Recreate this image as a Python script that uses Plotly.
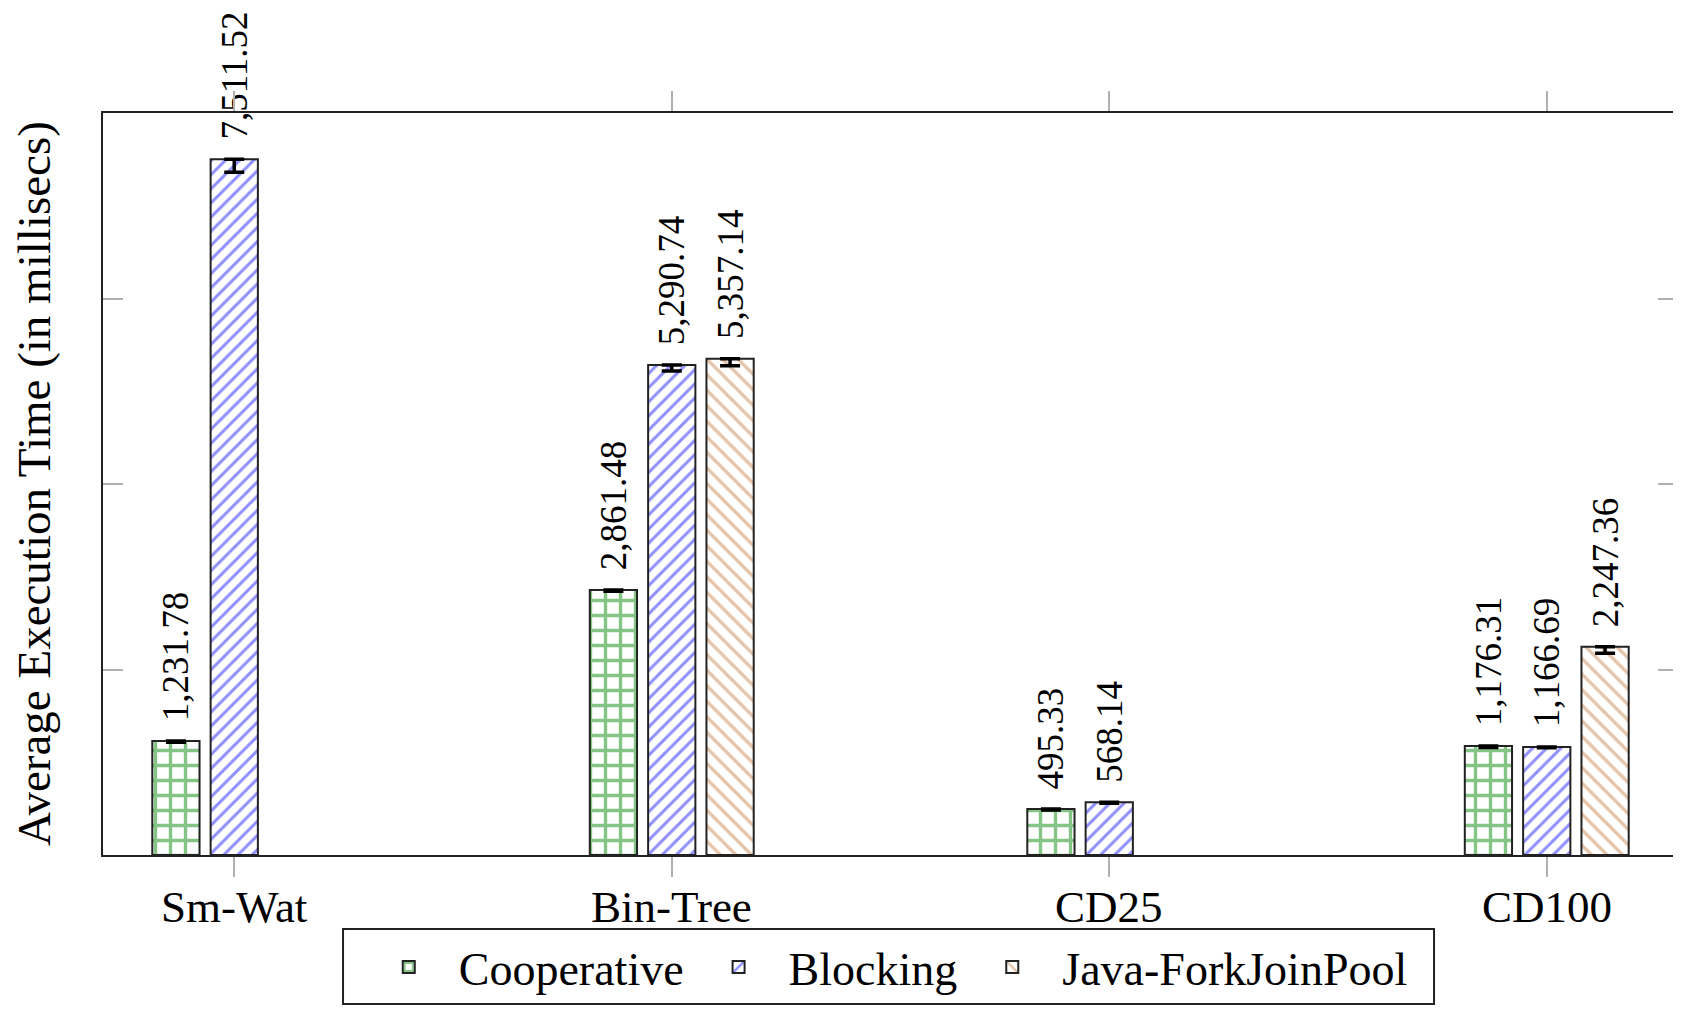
import plotly.graph_objects as go

categories = ["Sm-Wat", "Bin-Tree", "CD25", "CD100"]
cooperative = [1231.78, 2861.48, 495.33, 1176.31]
blocking = [7511.52, 5290.74, 568.14, 1166.69]
java_fjp = [None, 5357.14, None, 2247.36]
coop_err = [15, 15, 10, 15]
block_err = [140, 65, 10, 10]
java_err = [0, 75, 0, 70]
series_names = ["Cooperative", "Blocking", "Java-ForkJoinPool"]

FONT = "Liberation Serif"
NB = "\u00a0\u2009"

def labels(vals):
    return [None if v is None else NB + f"{v:,.2f}" for v in vals]

specs = [
    (series_names[0], cooperative, coop_err, "+", "#0a8a0a", 15, 0.4),
    (series_names[1], blocking, block_err, "/", "#1f1fff", 10, 0.3),
    (series_names[2], java_fjp, java_err, "\\", "#c98a55", 11, 0.3),
]

fig = go.Figure()
for name, vals, err, shape, col, size, sol in specs:
    fig.add_trace(go.Bar(
        name=name, x=categories, y=vals,
        text=labels(vals), textposition="outside", textangle=-90,
        constraintext="none", cliponaxis=False,
        textfont=dict(family=FONT, size=37, color="black"),
        outsidetextfont=dict(family=FONT, size=37, color="black"),
        marker=dict(color="white", line=dict(color="#222222", width=2),
                    pattern=dict(shape=shape, fgcolor=col, bgcolor="white",
                                 size=size, solidity=sol)),
        error_y=dict(type="data", symmetric=False, array=[0]*4, arrayminus=err,
                     color="black", thickness=3.5, width=10),
    ))

annotations = [dict(text="Average Execution Time (in millisecs)", textangle=-90,
                    xref="paper", yref="paper", x=-0.0438, y=0.5,
                    xanchor="center", yanchor="middle", showarrow=False,
                    font=dict(family=FONT, size=47, color="black"))]
for c in categories:
    annotations.append(dict(text=c, x=c, xref="x", y=0, yref="paper",
                            yanchor="middle", xanchor="center", yshift=-52,
                            showarrow=False,
                            font=dict(family=FONT, size=45, color="black")))

# legend frame
shapes = [dict(type="rect", xref="paper", yref="paper",
               x0=0.1524, x1=0.8451, y0=-0.2008, y1=-0.0997,
               line=dict(color="#222222", width=2), fillcolor="rgba(0,0,0,0)",
               layer="below")]

# page body has an 8px margin, so the figure is sized to fit the 1681x1010 window
fig.update_layout(
    width=1673, height=1002,
    margin=dict(l=95, r=3, t=105, b=155, autoexpand=False),
    paper_bgcolor="white", plot_bgcolor="white",
    barmode="group", bargap=0.6, bargroupgap=0.19,
    font=dict(family=FONT, color="black"),
    showlegend=True,
    legend=dict(orientation="h", x=0.497, xanchor="center", y=-0.151, yanchor="middle",
                borderwidth=0, bgcolor="rgba(0,0,0,0)",
                itemwidth=90,
                font=dict(family=FONT, size=46, color="black")),
    annotations=annotations,
    shapes=shapes,
)
fig.update_xaxes(range=[-0.3, 3.3], showline=True, linecolor="#222222", linewidth=2,
                 mirror="ticks", ticks="outside", ticklen=20, tickwidth=1.5,
                 tickcolor="#b0b0b0", showgrid=False, showticklabels=False)
fig.update_yaxes(range=[0, 8010], showline=True, linecolor="#222222", linewidth=2,
                 mirror="ticks", ticks="inside", ticklen=20, tickwidth=1.5,
                 tickcolor="#b0b0b0", showgrid=False, zeroline=False,
                 tickvals=[0, 2000, 4000, 6000, 8000], showticklabels=False)

fig.write_html("out.html")
